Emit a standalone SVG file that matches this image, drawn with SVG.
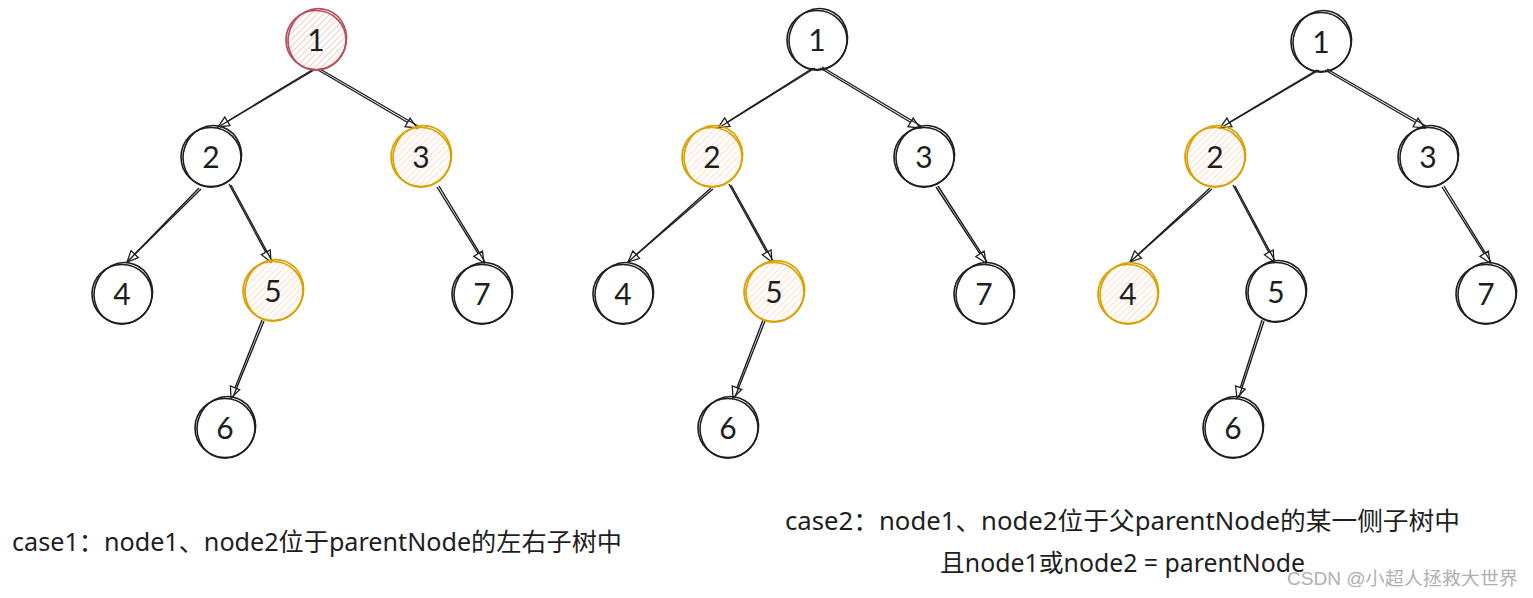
<svg xmlns="http://www.w3.org/2000/svg" width="1533" height="598" viewBox="0 0 1533 598">
<style>
.c{fill:none;stroke:#1e1e1e;stroke-width:1.6}
.r{fill:none;stroke:#b5515a;stroke-width:1.7}
.o{fill:none;stroke:#d9a000;stroke-width:1.7}
.n{font-family:Lato,"Noto Sans",sans-serif;font-size:30px;fill:#1e1e1e;text-anchor:middle}
.e{fill:none;stroke:#1e1e1e;stroke-width:1.4}
.t{font-family:"Noto Sans","Noto Sans CJK SC",sans-serif;font-size:25px;fill:#1e1e1e}
.w{font-family:"Liberation Sans","Noto Sans CJK SC",sans-serif;font-size:18px;fill:#b0b0b0}
</style>
<defs>
<pattern id="hr" width="4.5" height="4.5" patternUnits="userSpaceOnUse" patternTransform="rotate(45)"><line x1="0" y1="0" x2="0" y2="4.5" stroke="#f3a9a9" stroke-width="1.2"/></pattern>
<pattern id="ho" width="4.5" height="4.5" patternUnits="userSpaceOnUse" patternTransform="rotate(45)"><line x1="0" y1="0" x2="0" y2="4.5" stroke="#ffc9a0" stroke-width="1.2"/></pattern>
<marker id="a" markerWidth="14" markerHeight="12" refX="12" refY="6" orient="auto" markerUnits="userSpaceOnUse"><path d="M1,1 L12,6 L1,11 Z" fill="#fff" stroke="#1e1e1e" stroke-width="1.3"/></marker>
<g id="bc"><ellipse cx="0" cy="0" rx="30" ry="29.5" class="c"/><ellipse cx="1" cy="-1" rx="29" ry="31" transform="rotate(20)" class="c"/></g>
<g id="rc"><circle r="30" fill="url(#hr)"/><ellipse cx="0" cy="0" rx="30" ry="29.5" class="r"/><ellipse cx="1" cy="-1" rx="29" ry="31" transform="rotate(20)" class="r"/></g>
<g id="oc"><circle r="30" fill="url(#ho)"/><ellipse cx="0" cy="0" rx="30" ry="29.5" class="o"/><ellipse cx="1" cy="-1" rx="29" ry="31" transform="rotate(20)" class="o"/></g>
</defs>
<rect width="1533" height="598" fill="#fff"/>
<g id="connectors">
<path class="e" d="M312,70 L218,127" marker-end="url(#a)"/><path class="e" d="M314,70 L220,126"/>
<path class="e" d="M318,70 L417,128" marker-end="url(#a)"/><path class="e" d="M320,69 L418,126"/>
<path class="e" d="M199,188 L127,262" marker-end="url(#a)"/><path class="e" d="M201,189 L128,261"/>
<path class="e" d="M229,184 L271,262" marker-end="url(#a)"/><path class="e" d="M231,185 L272,261"/>
<path class="e" d="M437,187 L484,263" marker-end="url(#a)"/><path class="e" d="M439,186 L485,262"/>
<path class="e" d="M262,320 L231,398" marker-end="url(#a)"/><path class="e" d="M264,321 L233,397"/>
<path class="e" d="M813,68 L718,128" marker-end="url(#a)"/><path class="e" d="M815,68 L720,127"/>
<path class="e" d="M820,68 L920,128" marker-end="url(#a)"/><path class="e" d="M822,67 L921,126"/>
<path class="e" d="M711,188 L628,262" marker-end="url(#a)"/><path class="e" d="M713,189 L629,261"/>
<path class="e" d="M729,184 L772,262" marker-end="url(#a)"/><path class="e" d="M731,185 L773,261"/>
<path class="e" d="M936,187 L986,263" marker-end="url(#a)"/><path class="e" d="M938,186 L987,262"/>
<path class="e" d="M763,320 L733,398" marker-end="url(#a)"/><path class="e" d="M765,321 L735,397"/>
<path class="e" d="M1317,70 L1220,128" marker-end="url(#a)"/><path class="e" d="M1319,70 L1222,127"/>
<path class="e" d="M1325,70 L1425,128" marker-end="url(#a)"/><path class="e" d="M1327,69 L1426,126"/>
<path class="e" d="M1210,188 L1130,262" marker-end="url(#a)"/><path class="e" d="M1212,189 L1131,261"/>
<path class="e" d="M1233,185 L1274,262" marker-end="url(#a)"/><path class="e" d="M1235,186 L1275,261"/>
<path class="e" d="M1442,187 L1490,263" marker-end="url(#a)"/><path class="e" d="M1444,186 L1491,262"/>
<path class="e" d="M1262,320 L1237,398" marker-end="url(#a)"/><path class="e" d="M1264,321 L1239,397"/>
</g>
<g id="t1-n1"><use href="#rc" x="316" y="40"/><text class="n" x="316" y="51">1</text></g>
<g id="t1-n2"><use href="#bc" x="211" y="157"/><text class="n" x="211" y="168">2</text></g>
<g id="t1-n3"><use href="#oc" x="421" y="157"/><text class="n" x="421" y="168">3</text></g>
<g id="t1-n4"><use href="#bc" x="122" y="294"/><text class="n" x="122" y="305">4</text></g>
<g id="t1-n5"><use href="#oc" x="273" y="291"/><text class="n" x="273" y="302">5</text></g>
<g id="t1-n7"><use href="#bc" x="482" y="294"/><text class="n" x="482" y="305">7</text></g>
<g id="t1-n6"><use href="#bc" x="225" y="428"/><text class="n" x="225" y="439">6</text></g>
<g id="t2-n1"><use href="#bc" x="817" y="40"/><text class="n" x="817" y="51">1</text></g>
<g id="t2-n2"><use href="#oc" x="712" y="157"/><text class="n" x="712" y="168">2</text></g>
<g id="t2-n3"><use href="#bc" x="924" y="157"/><text class="n" x="924" y="168">3</text></g>
<g id="t2-n4"><use href="#bc" x="623" y="294"/><text class="n" x="623" y="305">4</text></g>
<g id="t2-n5"><use href="#oc" x="774" y="292"/><text class="n" x="774" y="303">5</text></g>
<g id="t2-n7"><use href="#bc" x="984" y="294"/><text class="n" x="984" y="305">7</text></g>
<g id="t2-n6"><use href="#bc" x="728" y="428"/><text class="n" x="728" y="439">6</text></g>
<g id="t3-n1"><use href="#bc" x="1321" y="42"/><text class="n" x="1321" y="53">1</text></g>
<g id="t3-n2"><use href="#oc" x="1215" y="157"/><text class="n" x="1215" y="168">2</text></g>
<g id="t3-n3"><use href="#bc" x="1428" y="157"/><text class="n" x="1428" y="168">3</text></g>
<g id="t3-n4"><use href="#oc" x="1128" y="294"/><text class="n" x="1128" y="305">4</text></g>
<g id="t3-n5"><use href="#bc" x="1276" y="292"/><text class="n" x="1276" y="303">5</text></g>
<g id="t3-n7"><use href="#bc" x="1486" y="294"/><text class="n" x="1486" y="305">7</text></g>
<g id="t3-n6"><use href="#bc" x="1233" y="428"/><text class="n" x="1233" y="439">6</text></g>
<g id="labels">
<text class="t" x="12" y="551" textLength="610" lengthAdjust="spacingAndGlyphs">case1：node1、node2位于parentNode的左右子树中</text>
<text class="t" x="785" y="530" textLength="675" lengthAdjust="spacingAndGlyphs">case2：node1、node2位于父parentNode的某一侧子树中</text>
<text class="t" x="940" y="572" textLength="365" lengthAdjust="spacingAndGlyphs">且node1或node2 = parentNode</text>
<text class="w" x="1287" y="585" textLength="231" lengthAdjust="spacingAndGlyphs">CSDN @小超人拯救大世界</text>
</g>
</svg>
